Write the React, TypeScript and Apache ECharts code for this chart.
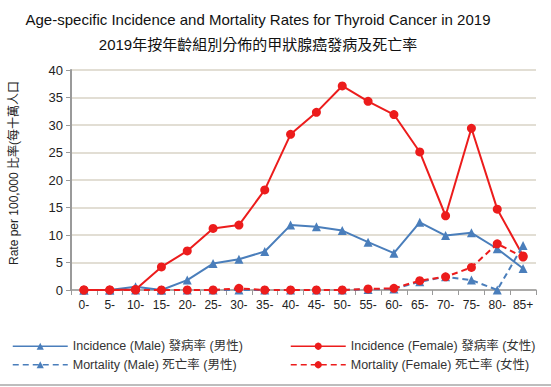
import React, { useEffect, useRef } from "react";
import * as echarts from "echarts";

const categories = ["0-", "5-", "10-", "15-", "20-", "25-", "30-", "35-", "40-", "45-", "50-", "55-", "60-", "65-", "70-", "75-", "80-", "85+"];
const incidenceMale = [0, 0, 0.6, 0, 1.8, 4.8, 5.6, 7.0, 11.8, 11.5, 10.8, 8.7, 6.7, 12.3, 9.9, 10.4, 7.5, 3.9];
const incidenceFemale = [0, 0, 0.1, 4.2, 7.1, 11.2, 11.8, 18.2, 28.3, 32.3, 37.1, 34.3, 31.9, 25.1, 13.5, 29.4, 14.7, 6.2];
const mortalityMale = [0, 0, 0, 0, 0, 0, 0, 0, 0, 0, 0, 0.1, 0.2, 1.5, 2.4, 1.8, 0, 8.1];
const mortalityFemale = [0, 0, 0, 0, 0, 0, 0.3, 0, 0, 0, 0, 0.2, 0.3, 1.7, 2.4, 4.1, 8.4, 6.0];

const seriesNames = [
  "Incidence (Male) 發病率 (男性)",
  "Incidence (Female) 發病率 (女性)",
  "Mortality (Male) 死亡率 (男性)",
  "Mortality (Female) 死亡率 (女性)",
];
const titleEn = "Age-specific Incidence and Mortality Rates for Thyroid Cancer in 2019";
const titleZh = "2019年按年齡組別分佈的甲狀腺癌發病及死亡率";
const yAxisTitle = "Rate per 100,000 比率(每十萬人口";

const FONT = "'Liberation Sans', Arial, 'Noto Sans CJK TC', sans-serif";
const BLUE = "#4a7ebb";
const RED = "#ec1c1c";

export default function App() {
  const ref = useRef<HTMLDivElement>(null);
  useEffect(() => {
    if (!ref.current) return;
    const chart = echarts.init(ref.current, null, { renderer: "svg" });
    const mk = (name: string, data: number[], color: string, symbol: string, dashed: boolean) => ({
      name,
      type: "line",
      data,
      symbol,
      symbolSize: 9,
      lineStyle: { color, width: 2, type: dashed ? [6, 4] : "solid" },
      itemStyle: { color },
    });
    const legendBase = () => ({
      top: 340,
      height: 46,
      orient: "vertical",
      itemWidth: 55,
      itemHeight: 9,
      itemGap: 6,
      padding: 0,
      textStyle: { fontSize: 12.5, color: "#333", fontFamily: FONT },
      lineStyle: { width: 1.5 },
    });
    chart.setOption({
      animation: false,
      backgroundColor: "#fff",
      textStyle: { fontFamily: FONT },
      grid: { left: 71, right: 15, top: 70, bottom: 97 },
      graphic: [
        {
          type: "text",
          x: 258,
          y: 19,
          style: { text: titleEn, font: `15px ${FONT}`, fill: "#111", textAlign: "center", textVerticalAlign: "middle" },
        },
        {
          type: "text",
          x: 258,
          y: 44,
          style: { text: titleZh, font: `15px ${FONT}`, fill: "#111", textAlign: "center", textVerticalAlign: "middle" },
        },
        {
          type: "text",
          x: 14,
          y: 173,
          rotation: Math.PI / 2,
          style: { text: yAxisTitle, font: `12px ${FONT}`, fill: "#222", textAlign: "center", textVerticalAlign: "middle" },
        },
        {
          type: "line",
          shape: { x1: 0, y1: 385, x2: 551, y2: 385 },
          style: { stroke: "#bdbdbd", lineWidth: 2 },
        },
      ],
      legend: [
        { ...legendBase(), left: 12, data: [seriesNames[0], seriesNames[2]] },
        { ...legendBase(), left: 290, data: [seriesNames[1], seriesNames[3]] },
      ],
      xAxis: {
        type: "category",
        data: categories,
        boundaryGap: true,
        axisLine: { lineStyle: { color: "#9a9a9a", width: 1.5 } },
        axisTick: { show: true, interval: 0, length: 5, lineStyle: { color: "#9a9a9a" } },
        axisLabel: { interval: 0, fontSize: 12, color: "#222", margin: 9, fontFamily: FONT },
      },
      yAxis: {
        type: "value",
        min: 0,
        max: 40,
        interval: 5,
        axisLine: { show: true, lineStyle: { color: "#9a9a9a", width: 2 } },
        axisTick: { show: true, length: 5, lineStyle: { color: "#9a9a9a" } },
        axisLabel: { fontSize: 13, color: "#222", margin: 8, fontFamily: FONT },
        splitLine: { lineStyle: { color: "#d9d3c6", width: 1.5 } },
      },
      series: [
        mk(seriesNames[0], incidenceMale, BLUE, "triangle", false),
        mk(seriesNames[1], incidenceFemale, RED, "circle", false),
        mk(seriesNames[2], mortalityMale, BLUE, "triangle", true),
        mk(seriesNames[3], mortalityFemale, RED, "circle", true),
      ],
    });
    return () => chart.dispose();
  }, []);
  return <div ref={ref} style={{ position: "fixed", left: 0, top: 0, width: 551, height: 387 }} />;
}
